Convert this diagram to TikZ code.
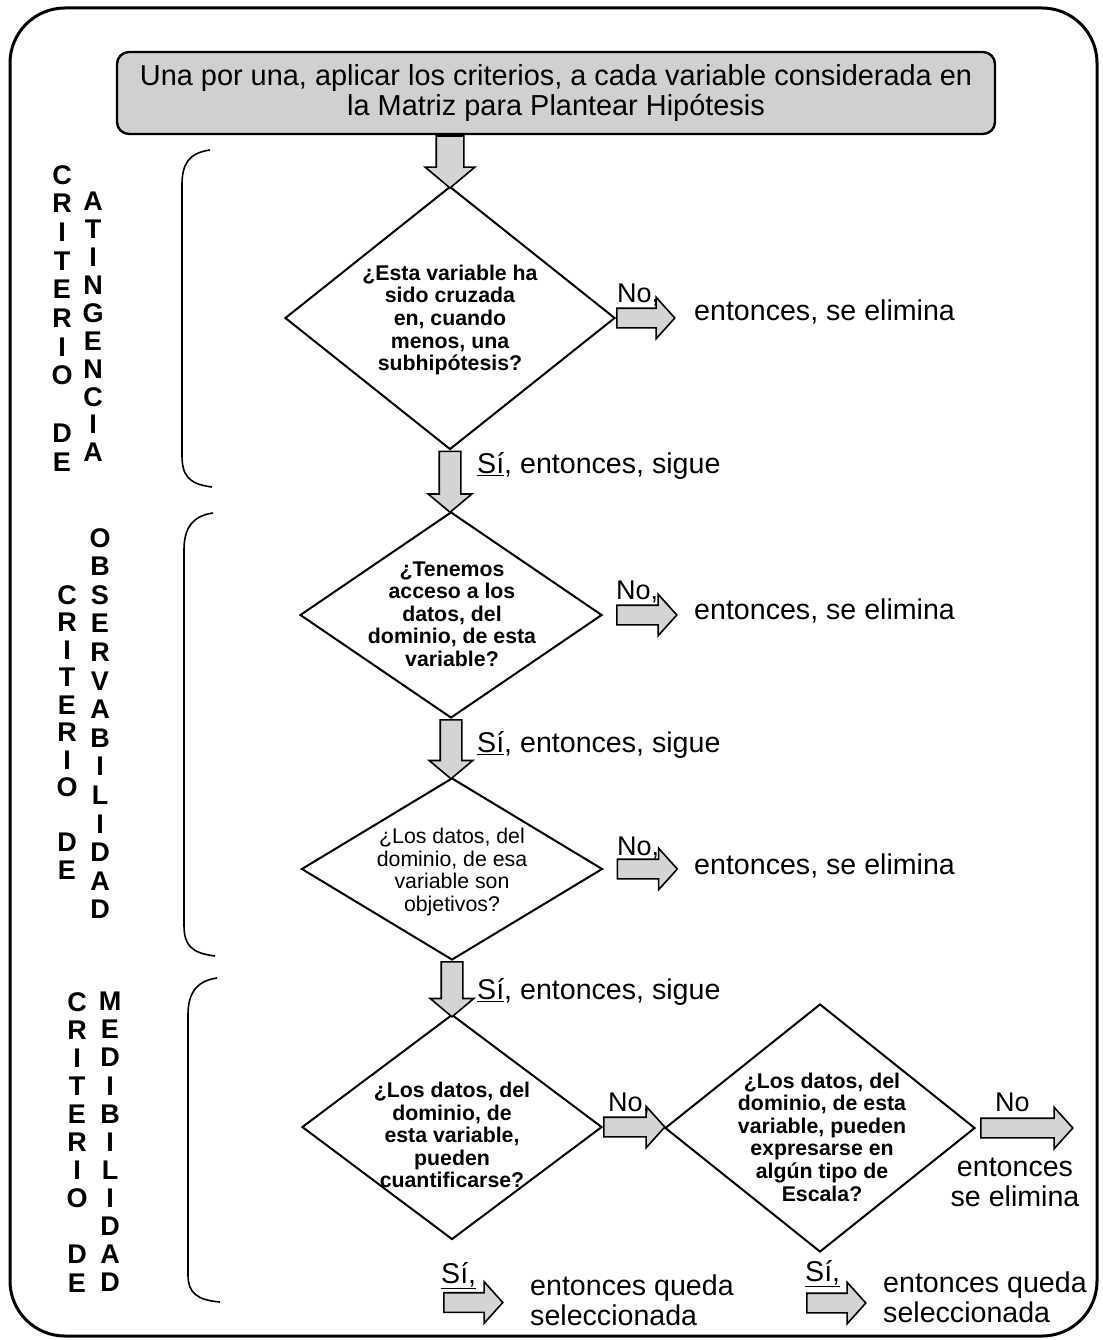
\documentclass[tikz,border=0pt]{standalone}
\usepackage{fontspec}
\setmainfont{Liberation Sans}
\usetikzlibrary{shapes.geometric,shapes.arrows,calc}
\definecolor{afill}{HTML}{D4D4D4}
\definecolor{bfill}{HTML}{D0D0D0}
\begin{document}
\begin{tikzpicture}[x=1pt,y=-1pt,
  dia/.style={diamond, draw, line width=2, inner sep=0, aspect=1},
  qtext/.style={align=center, font=\fontsize{21.3}{22.6}\selectfont\bfseries, inner sep=0},
  qtextr/.style={align=center, font=\fontsize{21.3}{22.6}\selectfont, inner sep=0},
  big/.style={font=\fontsize{28.6}{30}\selectfont, inner sep=0},
  notext/.style={font=\fontsize{27}{28}\selectfont, inner sep=0, anchor=base west},
  darr/.style={single arrow, draw, fill=afill, line width=1.6, inner xsep=0, inner ysep=10,
    single arrow head extend=11, single arrow tip angle=100, minimum width=42, rotate=-90, anchor=tail},
  rarr/.style={single arrow, draw, fill=afill, line width=1.6, inner xsep=0, inner ysep=9,
    single arrow head extend=11, single arrow tip angle=96, minimum width=40, anchor=tail},
  vlet/.style={align=center, font=\fontsize{27}{#1}\selectfont\bfseries, inner sep=0, anchor=north},
  brace/.style={line width=1.6}
]
\useasboundingbox (0,0) rectangle (1102,1340);
% outer frame
\draw[line width=3, rounded corners=55] (10,8) rectangle (1097,1336);
% top box
\node[draw, line width=2.4, fill=bfill, rounded corners=12, minimum width=878, minimum height=82,
  align=center, font=\fontsize{28.9}{30}\selectfont, inner sep=0] (top) at (556,93)
  {Una por una, aplicar los criterios, a cada variable considerada en\\la Matriz para Plantear Hipótesis};
% diamonds
\node[dia, minimum width=330, minimum height=263] (d1) at (450,318) {};
\node[dia, minimum width=302, minimum height=206] (d2) at (451,615) {};
\node[dia, minimum width=301, minimum height=182] (d3) at (452,869) {};
\node[dia, minimum width=300, minimum height=225] (d4) at (452,1127) {};
\node[dia, minimum width=310, minimum height=248] (d5) at (820,1128) {};
% diamond texts
\node[qtext] (q1) at (450,320) {¿Esta variable ha\\sido cruzada\\en, cuando\\menos, una\\subhipótesis?};
\node[qtext] (q2) at (452,614) {¿Tenemos\\acceso a los\\datos, del\\dominio, de esta\\variable?};
\node[qtextr] (q3) at (452,872) {¿Los datos, del\\dominio, de esa\\variable son\\objetivos?};
\node[qtext] (q4) at (452,1135) {¿Los datos, del\\dominio, de\\esta variable,\\pueden\\cuantificarse?};
\node[qtext] (q5) at (822,1137) {¿Los datos, del\\dominio, de esta\\variable, pueden\\expresarse en\\algún tipo de\\Escala?};
% down arrows
\node[darr, minimum height=52, inner ysep=13, minimum width=44] (a1) at (top.south -| d1.north) {};
\node[darr, minimum height=61] (a2) at (d1.south) {};
\node[darr, minimum height=59] (a3) at (d2.south) {};
\node[darr, minimum height=55] (a4) at (d3.south) {};
% right arrows
\node[rarr, minimum height=58] (r1) at (d1.east) {};
\node[rarr, minimum height=60] (r2) at ([xshift=13]d2.east) {};
\node[rarr, minimum height=60] (r3) at ([xshift=13]d3.east) {};
\node[rarr, minimum height=61] (r4) at (d4.east) {};
\node[rarr, minimum height=92] (r5) at ([xshift=4]d5.east) {};
\node[rarr, minimum height=59] (b1) at ($(d4.south)+(-9,62)$) {};
\node[rarr, minimum height=59] (b2) at ($(d5.south)+(-14,50)$) {};
% labels
\node[notext] (n1) at (617,302) {No,};
\node[notext] (n2) at (616,599) {No,};
\node[notext] (n3) at (617,855) {No,};
\node[notext] (n4) at (608,1111) {No,};
\node[notext] (n5) at (995,1111) {No};
\node[big, anchor=west] (e1) at (694,312) {entonces, se elimina};
\node[big, anchor=west] (e2) at (694,611) {entonces, se elimina};
\node[big, anchor=west] (e3) at (694,866) {entonces, se elimina};
\node[big, align=center] (e5) at (1015,1182) {entonces\\se elimina};
\node[big, anchor=west] (s1) at (477,466) {\underline{Sí}, entonces, sigue};
\node[big, anchor=west] (s2) at (477,745) {\underline{Sí}, entonces, sigue};
\node[big, anchor=west] (s3) at (477,992) {\underline{Sí}, entonces, sigue};
\node[big, anchor=base west] (y1) at (441,1283) {\underline{Sí,}};
\node[big, anchor=base west] (y2) at (805,1281) {\underline{Sí,}};
\node[big, align=left, anchor=west] (e6) at (530,1300) {entonces queda\\seleccionada};
\node[big, align=left, anchor=west] (e7) at (883,1297) {entonces queda\\seleccionada};
% vertical criterion labels
\node[vlet=28.7] (k1a) at (62,165) {C\\R\\I\\T\\E\\R\\I\\O\\[28.7pt]D\\E};
\node[vlet=27.9] (k1b) at (93,192) {A\\T\\I\\N\\G\\E\\N\\C\\I\\A};
\node[vlet=27.5] (k2a) at (67,585) {C\\R\\I\\T\\E\\R\\I\\O\\[27.5pt]D\\E};
\node[vlet=28.6] (k2b) at (100,528) {O\\B\\S\\E\\R\\V\\A\\B\\I\\L\\I\\D\\A\\D};
\node[vlet=28.1] (k3a) at (77,992) {C\\R\\I\\T\\E\\R\\I\\O\\[28.1pt]D\\E};
\node[vlet=28.1] (k3b) at (110,992) {M\\E\\D\\I\\B\\I\\L\\I\\D\\A\\D};
% braces
\draw[brace] (210,150) .. controls (188,153) and (182,165) .. (182,185) -- (182,455)
  .. controls (182,475) and (188,484) .. (212,487);
\draw[brace] (213,513) .. controls (191,516) and (184,530) .. (184,550) -- (184,925)
  .. controls (184,945) and (191,953) .. (215,956);
\draw[brace] (217,978) .. controls (195,981) and (188,995) .. (188,1015) -- (188,1275)
  .. controls (188,1292) and (196,1300) .. (220,1302);
\end{tikzpicture}
\end{document}
